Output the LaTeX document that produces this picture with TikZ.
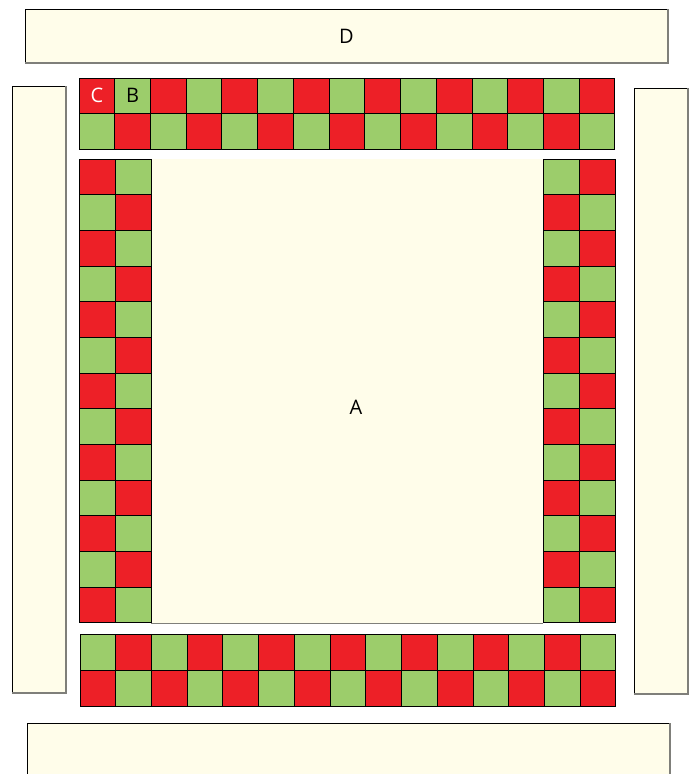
\documentclass[tikz,border=0pt]{standalone}
\usepackage{fontspec}
\setmainfont{Open Sans}
\definecolor{cream}{HTML}{FFFDEA}
\definecolor{cellred}{HTML}{ED2027}
\definecolor{cellgreen}{HTML}{9CCD6B}
\definecolor{edgegray}{HTML}{7F7F7A}
\tikzset{
  panel/.style={fill=cream, draw=black, line width=0.9pt},
  cell/.style={draw=black, line width=1pt},
  lbl/.style={font=\fontsize{20}{20}\selectfont, inner sep=0pt},
}
\newcommand{\shadowbox}[5]{% name, x1, y1, x2, y2
  \path[panel] (#2,#3) rectangle (#4,#5);
  \draw[draw=edgegray, line width=1.3pt] (#2,#5) -- (#4,#5) -- (#4,#3);
  \coordinate (#1) at ({(#2+#4)/2},{(#3+#5)/2});
}
\begin{document}
\begin{tikzpicture}[x=1pt,y=-1pt]
\useasboundingbox (0,0) rectangle (693,774);
\fill[white] (0,0) rectangle (693,774);
% outer panels
\shadowbox{D}{25}{9}{668}{63}
\shadowbox{L}{12}{86}{66}{693}
\shadowbox{R}{634}{88}{688}{694}
% bottom panel (cut off)
\fill[cream] (27,723) rectangle (670,780);
\draw[black, line width=0.9pt] (27,780) -- (27,723) -- (670,723);
\draw[draw=edgegray, line width=1.3pt] (670,723) -- (670,780);
% central area A
\path[fill=cream] (151,159) rectangle (543,623);
\draw[draw=edgegray, line width=1pt] (151,623) -- (543,623);
\node[lbl] (A) at (356,407) {A};
\node[lbl] at (D) {D};
% top strip: 15 x 2, red where (c+r) even
\foreach \c in {0,...,14}{
  \foreach \r in {0,1}{
    \pgfmathtruncatemacro{\p}{mod(\c+\r,2)}
    \ifnum\p=0 \def\col{cellred}\else\def\col{cellgreen}\fi
    \path[cell, fill=\col] ({79+\c*35.73},{78+\r*35.5}) rectangle ({79+(\c+1)*35.73},{78+(\r+1)*35.5})
      coordinate[pos=0.5] (t-\c-\r);
  }
}
% bottom strip: 15 x 2, red where (c+r) odd
\foreach \c in {0,...,14}{
  \foreach \r in {0,1}{
    \pgfmathtruncatemacro{\p}{mod(\c+\r,2)}
    \ifnum\p=1 \def\col{cellred}\else\def\col{cellgreen}\fi
    \path[cell, fill=\col] ({80+\c*35.73},{634+\r*36}) rectangle ({80+(\c+1)*35.73},{634+(\r+1)*36})
      coordinate[pos=0.5] (b-\c-\r);
  }
}
% left column: 2 x 13, red where (c+r) even
\foreach \r in {0,...,12}{
  \foreach \c in {0,1}{
    \pgfmathtruncatemacro{\p}{mod(\c+\r,2)}
    \ifnum\p=0 \def\col{cellred}\else\def\col{cellgreen}\fi
    \path[cell, fill=\col] ({79+\c*36},{159+\r*35.69}) rectangle ({79+(\c+1)*36},{159+(\r+1)*35.69})
      coordinate[pos=0.5] (l-\c-\r);
  }
}
% right column: 2 x 13, red where (c+r) odd
\foreach \r in {0,...,12}{
  \foreach \c in {0,1}{
    \pgfmathtruncatemacro{\p}{mod(\c+\r,2)}
    \ifnum\p=1 \def\col{cellred}\else\def\col{cellgreen}\fi
    \path[cell, fill=\col] ({543+\c*36},{159+\r*35.69}) rectangle ({543+(\c+1)*36},{159+(\r+1)*35.69})
      coordinate[pos=0.5] (r-\c-\r);
  }
}
\node[lbl, text=white] (C) at (t-0-0) {C};
\node[lbl, text=black] (B) at (t-1-0) {B};
\end{tikzpicture}
\end{document}
